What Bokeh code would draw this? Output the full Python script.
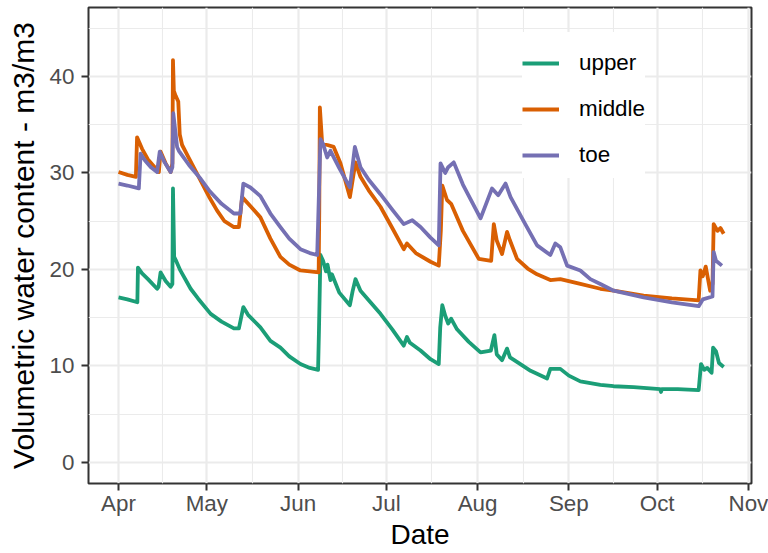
import pandas as pd
from bokeh.plotting import figure
from bokeh.models import (FixedTicker, DatetimeTickFormatter, Range1d, Legend, LegendItem)
from bokeh.embed import file_html
from bokeh.resources import INLINE

# ---------------- data ----------------
START = "2017-04-01"  # day offsets below are days since this date

upper_day = [0, 3, 6.4, 6.6, 8, 10, 13.1, 13.6, 14.3, 16, 17.7, 18.3, 18.5, 18.9, 19.4, 21, 24.5, 27,
             31.3, 35, 39.2, 40.9, 42.4, 44, 48.2, 51.6, 55, 58, 61.8, 65, 67.8, 68.1, 68.6, 69.5,
             70.5, 71, 72, 72.5, 75, 78.6, 79.5, 80.5, 82.2, 85, 89, 93, 96.9, 98, 99, 102.6, 106,
             108.8, 109.3, 110, 111, 112, 113, 115, 119, 123, 126.5, 127.7, 128.5, 130.3, 132, 133,
             136, 140, 145.6, 146.7, 150.1, 153, 156.9, 163.7, 168.2, 175, 184, 184.3, 184.6, 190,
             197.1, 197.9, 199, 200, 201.5, 202, 203, 204, 205.6]
upper_vwc = [17.1, 16.9, 16.6, 20.2, 19.6, 19.0, 18.0, 18.2, 19.7, 18.8, 18.2, 18.5, 28.4, 21.3, 21.0,
             19.9, 18.0, 17.0, 15.4, 14.6, 13.9, 13.9, 16.1, 15.3, 14.0, 12.6, 11.9, 11.0, 10.2, 9.8,
             9.6, 13.7, 21.5, 20.9, 19.8, 20.5, 18.9, 19.5, 17.6, 16.3, 17.7, 19.0, 17.8, 16.8, 15.4,
             13.8, 12.1, 13.0, 12.4, 11.6, 10.7, 10.2, 14.0, 16.3, 15.2, 14.4, 14.9, 13.8, 12.5, 11.4,
             11.6, 13.2, 11.2, 10.6, 11.8, 10.9, 10.3, 9.5, 8.7, 9.7, 9.7, 9.0, 8.4, 8.05, 7.9, 7.8,
             7.6, 7.3, 7.6, 7.6, 7.5, 10.2, 9.6, 9.8, 9.3, 11.9, 11.5, 10.3, 9.9]

middle_day = [0, 3, 5.9, 6.3, 7, 8, 10, 13.7, 14.3, 16, 17.7, 18.3, 18.5, 18.8, 19.4, 20.3, 20.8, 21.6,
              24, 27.9, 31, 33.5, 36, 39.2, 40.9, 42, 45, 48.2, 51.6, 55, 58, 61.8, 65, 68, 68.2,
              68.4, 69.2, 71, 73.1, 75.4, 78.6, 80.5, 82.2, 85, 89, 93, 96.9, 98, 101, 106, 108.8,
              109.5, 110, 111.6, 113, 117, 122.4, 126.6, 127.5, 128.5, 130.3, 132, 133, 135.4, 139,
              142.2, 146.7, 150.1, 156.9, 163.7, 168.2, 178.4, 188, 197.1, 197.7, 198.5, 199.5, 201,
              201.8, 202.2, 203.5, 204.5, 205.6]
middle_vwc = [30.1, 29.8, 29.6, 33.7, 33.2, 32.5, 31.4, 30.1, 32.2, 31.0, 30.1, 31.0, 41.7, 38.5, 38.0,
              37.4, 34.0, 32.9, 31.5, 29.2, 27.4, 26.1, 25.0, 24.4, 24.4, 27.5, 26.5, 25.4, 23.2, 21.3,
              20.5, 19.9, 19.8, 19.7, 26.0, 36.8, 33.0, 32.9, 32.7, 31.0, 27.5, 31.1, 29.6, 28.2, 26.5,
              24.3, 22.1, 22.7, 21.7, 20.8, 20.4, 24.0, 28.7, 27.2, 26.8, 24.0, 21.1, 20.9, 24.7, 23.0,
              21.6, 23.9, 23.0, 21.1, 20.1, 19.5, 18.9, 19.0, 18.5, 18.0, 17.8, 17.3, 17.0, 16.8, 19.9,
              19.3, 20.3, 17.8, 18.5, 24.7, 24.0, 24.3, 23.7]

toe_day = [0, 3, 6.9, 7.5, 9, 11, 13.1, 14, 15.5, 17.7, 18.3, 18.6, 19.9, 20.5, 24, 27.9, 31, 35, 39.2,
           41.4, 42.4, 44.8, 48.2, 51.6, 55, 58, 61.8, 65, 67.5, 67.9, 68.6, 69.5, 70.9, 72, 75, 78.6,
           80.3, 82.2, 85, 89, 93, 96.9, 99.8, 102.6, 106, 108.8, 109.4, 111, 112, 113.9, 117, 123,
           126.9, 129, 131.5, 133.2, 138, 142.2, 146.7, 148.4, 150.1, 152.4, 156.9, 160.3, 163.7,
           168.2, 178.4, 188, 197.1, 198.5, 201.8, 202.2, 203, 205]
toe_vwc = [28.9, 28.7, 28.4, 32.0, 31.3, 30.6, 30.1, 32.2, 31.2, 30.1, 30.6, 36.2, 32.7, 32.3, 30.8,
           29.4, 28.1, 26.8, 25.8, 25.8, 28.9, 28.5, 27.6, 25.8, 24.4, 23.2, 22.1, 21.7, 21.5, 25.8,
           33.5, 33.0, 31.6, 32.3, 30.5, 28.5, 32.7, 30.6, 29.3, 27.8, 26.2, 24.7, 25.1, 24.4, 23.3,
           22.5, 31.0, 30.0, 30.6, 31.1, 28.8, 25.3, 28.4, 27.7, 28.9, 27.5, 24.8, 22.5, 21.5, 22.7,
           22.3, 20.4, 19.9, 19.0, 18.5, 17.8, 17.1, 16.6, 16.2, 16.9, 17.2, 21.8, 20.9, 20.4]

series_names = ["upper", "middle", "toe"]
series_colors = ["#1B9E77", "#D95F02", "#7570B3"]

month_ticks = ["2017-04-01", "2017-05-01", "2017-06-01", "2017-07-01",
               "2017-08-01", "2017-09-01", "2017-10-01", "2017-11-01"]
month_labels = ["Apr", "May", "Jun", "Jul", "Aug", "Sep", "Oct", "Nov"]
y_ticks = [0, 10, 20, 30, 40]
y_minor = [5, 15, 25, 35, 45]

# ---------------- helpers ----------------
t0 = pd.Timestamp(START)


def to_ms(ts):
    return ts.value / 1e6


def days_to_dt(days):
    return [t0 + pd.Timedelta(days=d) for d in days]


major_ms = [to_ms(pd.Timestamp(s)) for s in month_ticks]
minor_ms = [(a + b) / 2 for a, b in zip(major_ms[:-1], major_ms[1:])]

FONT = "Liberation Sans"

p = figure(width=768, height=553, x_axis_type="datetime", output_backend="svg",
           toolbar_location=None,
           x_range=Range1d(to_ms(t0 - pd.Timedelta(days=10.2)), to_ms(t0 + pd.Timedelta(days=215.05))),
           y_range=Range1d(-2.18, 47.15),
           min_border_left=88, min_border_right=17, min_border_top=7, min_border_bottom=70)
p.background_fill_color = "white"
p.border_fill_color = "white"
p.outline_line_color = "#333333"
p.outline_line_width = 2

xt = FixedTicker(ticks=major_ms, minor_ticks=minor_ms)
yt = FixedTicker(ticks=y_ticks, minor_ticks=y_minor)
p.xaxis.ticker = xt
p.yaxis.ticker = yt
p.xgrid.ticker = xt
p.ygrid.ticker = yt

fmt = "%b"
p.xaxis.formatter = DatetimeTickFormatter(microseconds=fmt, milliseconds=fmt, seconds=fmt, minsec=fmt,
                                          minutes=fmt, hourmin=fmt, hours=fmt, days=fmt,
                                          months=fmt, years=fmt)

for g in (p.xgrid, p.ygrid):
    g.grid_line_color = "#EBEBEB"
    g.grid_line_width = 2.2
    g.minor_grid_line_color = "#EBEBEB"
    g.minor_grid_line_width = 1.1

for ax in (p.xaxis, p.yaxis):
    ax.axis_line_color = None
    ax.major_tick_line_color = "#333333"
    ax.major_tick_line_width = 2
    ax.major_tick_out = 7
    ax.major_tick_in = 0
    ax.minor_tick_line_color = None
    ax.major_label_text_font = FONT
    ax.major_label_text_font_size = "22.4px"
    ax.major_label_text_color = "#4D4D4D"
    ax.axis_label_text_font = FONT
    ax.axis_label_text_font_size = "28px"
    ax.axis_label_text_font_style = "normal"
    ax.axis_label_text_color = "black"

p.yaxis.axis_label_text_font_size = "30px"
p.xaxis.axis_label = "Date"
p.yaxis.axis_label = "Volumetric water content - m3/m3"
p.xaxis.major_label_standoff = 0
p.xaxis.axis_label_standoff = 0
p.yaxis.major_label_standoff = 7
p.yaxis.axis_label_standoff = 7

renderers = []
for name, color, d, v in zip(series_names, series_colors,
                             [upper_day, middle_day, toe_day],
                             [upper_vwc, middle_vwc, toe_vwc]):
    r = p.line(days_to_dt(d), v, line_color=color, line_width=3.8, line_join="round")
    renderers.append(r)

legend = Legend(items=[LegendItem(label=n, renderers=[r]) for n, r in zip(series_names, renderers)],
                location=(434, 305))
legend.title = " "
legend.title_text_font_size = "6px"
legend.title_standoff = 2
legend.label_text_font = FONT
legend.label_text_font_size = "22.4px"
legend.label_text_color = "black"
legend.glyph_width = 37
legend.glyph_height = 46
legend.label_height = 46
legend.label_standoff = 20
legend.spacing = 0
legend.padding = 18
legend.margin = 0
legend.border_line_color = None
legend.background_fill_color = "white"
legend.background_fill_alpha = 1
p.add_layout(legend)

open("out.html", "w").write(file_html(p, INLINE))
